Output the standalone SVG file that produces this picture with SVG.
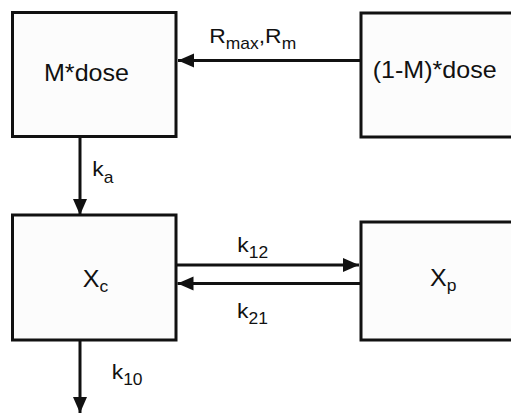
<svg xmlns="http://www.w3.org/2000/svg" width="511" height="415" viewBox="0 0 511 415">
<defs>
<marker id="ah" markerUnits="userSpaceOnUse" markerWidth="17" markerHeight="15" refX="16" refY="7" orient="auto">
<path d="M0,0 L16,7 L0,14 Z" fill="#111"/>
</marker>
<style>
.box{fill:#fcfcfc;stroke:#111;stroke-width:3}
.con{stroke:#111;stroke-width:3;fill:none;marker-end:url(#ah)}
text{font-family:"Liberation Sans",Arial,sans-serif;fill:#111}
.big{font-size:23px}
.lbl{font-size:21px}
.sub{font-size:16px}
</style>
</defs>
<rect width="511" height="415" fill="#ffffff"/>
<g id="connectors">
<path class="con" d="M361,60.5 H178"/>
<path class="con" d="M80,136.5 V215"/>
<path class="con" d="M176,265 H359"/>
<path class="con" d="M361,283.5 H177.5"/>
<path class="con" d="M80,340 V413"/>
<text class="lbl" transform="translate(209.3,42.7) scale(1.09,1)">R<tspan class="sub" dy="6">max</tspan><tspan dy="-6">,R</tspan><tspan class="sub" dy="6">m</tspan></text>
<text class="lbl" transform="translate(92.3,176) scale(1.09,1)">k<tspan class="sub" dy="7">a</tspan></text>
<text class="lbl" transform="translate(237.3,252) scale(1.09,1)">k<tspan class="sub" dy="6">12</tspan></text>
<text class="lbl" transform="translate(237,318) scale(1.09,1)">k<tspan class="sub" dy="6">21</tspan></text>
<text class="lbl" transform="translate(111.7,379) scale(1.09,1)">k<tspan class="sub" dy="6">10</tspan></text>
</g>
<g id="mdose">
<rect class="box" x="12.5" y="12.5" width="163.5" height="124"/>
<text class="big" transform="translate(44,81) scale(1.09,1)">M*dose</text>
</g>
<g id="rdose">
<rect class="box" x="361" y="13" width="170" height="124"/>
<text class="big" transform="translate(372.7,78.3) scale(1.09,1)">(1-M)*dose</text>
</g>
<g id="xc">
<rect class="box" x="12.5" y="215" width="163.5" height="125"/>
<text class="big" transform="translate(82.7,287) scale(1.09,1)">X<tspan class="sub" dy="5">c</tspan></text>
</g>
<g id="xp">
<rect class="box" x="361" y="222" width="170" height="118"/>
<text class="big" transform="translate(430,286) scale(1.09,1)">X<tspan class="sub" dy="5">p</tspan></text>
</g>
</svg>
